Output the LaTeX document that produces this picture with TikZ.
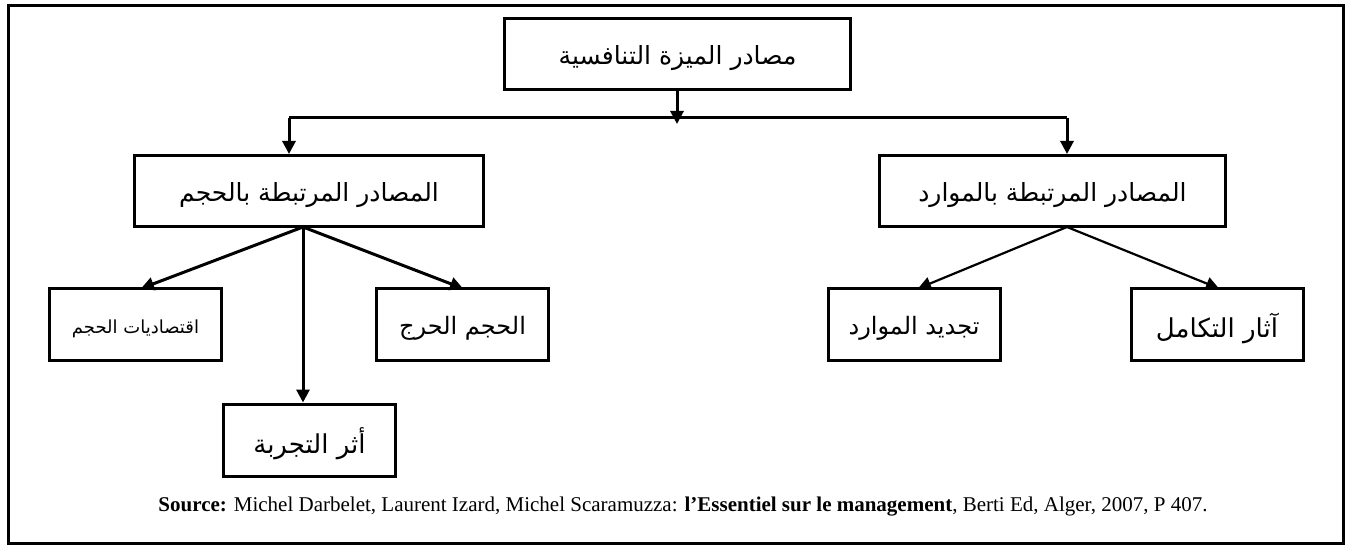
\documentclass[tikz,border=0pt]{standalone}
\usepackage{fontspec}
\setmainfont{Liberation Serif}
\newfontfamily\arabicfont[Script=Arabic]{DejaVu Sans}
\TeXXeTstate=1
\usetikzlibrary{arrows.meta}
\newcommand{\ar}[1]{\raisebox{-4pt}[\height][\depth]{\arabicfont\beginR #1\endR}}
\begin{document}
\begin{tikzpicture}[x=1pt,y=-1pt,
  box/.style={draw,line width=3pt,inner sep=0pt,anchor=center},
  bigbox/.style={box,minimum width=#1,minimum height=71pt,font=\fontsize{25}{30}\selectfont},
  smallbox/.style={box,minimum width=172pt,minimum height=72pt,font=\fontsize{24}{28}\selectfont},
  conn/.style={line width=3pt,-{Triangle[length=13pt,width=13pt]}},
  thinconn/.style={line width=2.2pt,-{Triangle[length=13pt,width=13pt]}}]
\useasboundingbox (0,0) rectangle (1346,545);
\draw[line width=3pt] (8.5,6) rectangle (1343.5,543);
% nodes
\node[bigbox=346pt] (T) at (677.5,54.5) {\ar{مصادر الميزة التنافسية}};
\node[bigbox=349pt] (L) at (309,191) {\ar{المصادر المرتبطة بالحجم}};
\node[bigbox=346pt] (R) at (1052.5,191) {\ar{المصادر المرتبطة بالموارد}};
\node[smallbox,font=\fontsize{18}{22}\selectfont] (L1) at (135.5,324.5) {\ar{اقتصاديات الحجم}};
\node[smallbox] (L2) at (462.5,324.5) {\ar{الحجم الحرج}};
\node[smallbox,font=\fontsize{26}{30}\selectfont] (L3) at (309.5,440) {\ar{أثر التجربة}};
\node[smallbox] (R1) at (914,324.5) {\ar{تجديد الموارد}};
\node[smallbox,font=\fontsize{26}{30}\selectfont] (R2) at (1217,324.5) {\ar{آثار التكامل}};
\node[font=\fontsize{21}{24}\selectfont] (src) at (683,507) {\textbf{Source:} Michel Darbelet, Laurent Izard, Michel Scaramuzza: \textbf{l’Essentiel sur le management}, Berti Ed, Alger, 2007, P 407.};
% bus
\coordinate (busM) at (677,124);
\coordinate (busL) at (289,118);
\coordinate (busR) at (1067,118);
\coordinate (Lb) at (303,227);
\coordinate (Rb) at (1067,227);
\draw[conn] (T.south -| busM) -- (busM);
\draw[line width=3pt] (busL) -- (busR);
\draw[conn] (busL) -- (busL |- L.north);
\draw[conn] (busR) -- (busR |- R.north);
% left children
\draw[conn] (Lb) -- (141,288.5);
\draw[conn] (Lb) -- (463,288.5);
\draw[conn] (Lb) -- (Lb |- L3.north);
% right children
\draw[thinconn] (Rb) -- (918,288.5);
\draw[thinconn] (Rb) -- (1219,288.5);
\end{tikzpicture}
\end{document}
